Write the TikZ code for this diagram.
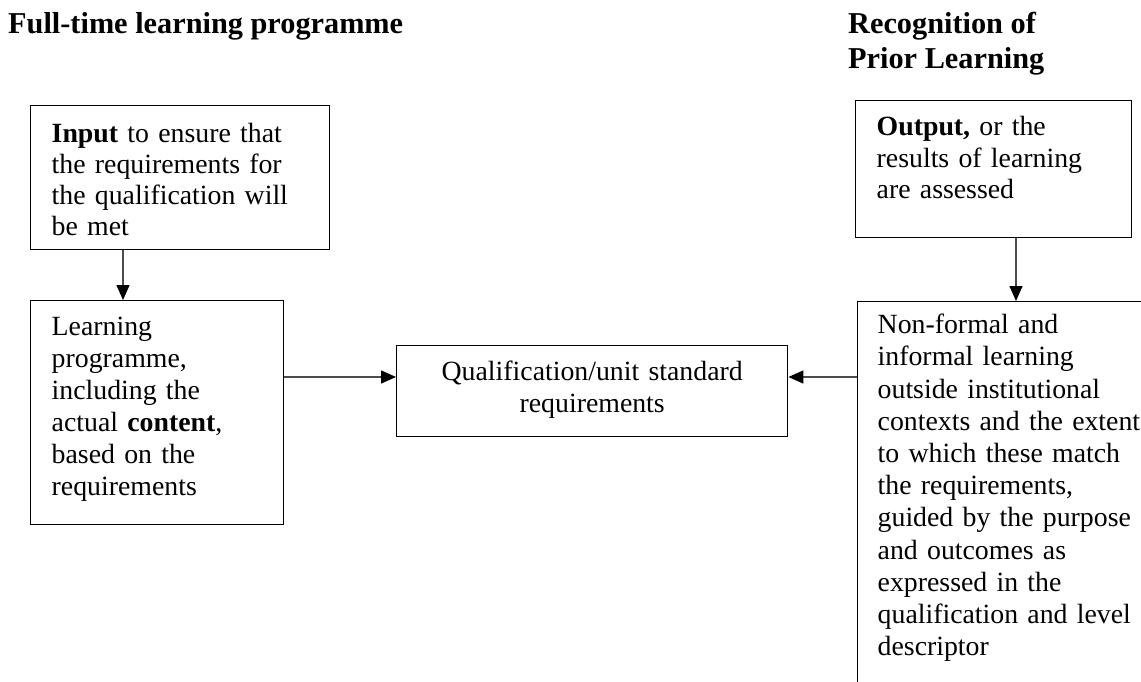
\documentclass[tikz,border=0pt]{standalone}
\usepackage{fontspec}
\setmainfont{Liberation Serif}
\usetikzlibrary{arrows.meta}
\newcommand{\bodyfont}[1]{\fontsize{27.8pt}{#1pt}\selectfont}
\newcommand{\titlefont}{\fontsize{30.3pt}{35pt}\selectfont\bfseries}
\tikzset{
  boxnode/.style={draw=black, line width=1.4pt, inner xsep=21pt, inner ysep=0pt,
                  anchor=north west, align=left},
  conn/.style={draw=black!70, line width=1.4pt,
               -{Triangle[length=15pt,width=13pt,color=black]}},
  titlenode/.style={inner sep=0pt, align=left, font=\titlefont}
}
\begin{document}
\begin{tikzpicture}[x=1pt,y=1pt]
\useasboundingbox (0,0) rectangle (1141,-681);
\clip (0,0) rectangle (1141,-681);
\fill[white] (0,0) rectangle (1141,-681);

% titles
\node[titlenode, anchor=base west] (t1) at (8,-33) {Full-time learning programme};
\node[titlenode, anchor=north west] (t2) at (848,-8)
  {\rule{0pt}{25pt}Recognition of\\Prior Learning};

% boxes
\node[boxnode, text width=257pt, font=\bodyfont{31}] (in) at (30,-105)
  {\rule{0pt}{37pt}\textbf{Input} to ensure that\\the requirements for\\the qualification will\\be met\rule[-14pt]{0pt}{14pt}};

\node[boxnode, text width=211pt, font=\bodyfont{32}] (lp) at (30,-300)
  {\rule{0pt}{35pt}Learning\\programme,\\including the\\actual \textbf{content},\\based on the\\requirements\rule[-29pt]{0pt}{29pt}};

\node[boxnode, text width=349pt, align=center, font=\bodyfont{32}] (q) at (396,-345)
  {\rule{0pt}{35pt}Qualification/unit standard\\requirements\rule[-24pt]{0pt}{24pt}};

\node[boxnode, text width=234pt, font=\bodyfont{31.5}] (out) at (855,-100)
  {\rule{0pt}{35pt}\textbf{Output,} or the\\results of learning\\are assessed\rule[-39pt]{0pt}{39pt}};

\node[boxnode, inner xsep=20pt, text width=263pt, font=\bodyfont{32.2}] (nf) at (857,-301)
  {\rule{0pt}{32pt}Non-formal and\\informal learning\\outside institutional\\contexts and the extent\\to which these match\\the requirements,\\guided by the purpose\\and outcomes as\\expressed in the\\qualification and level\\descriptor\rule[-60pt]{0pt}{60pt}};

% connector guides
\coordinate (ax1) at (123,0);
\coordinate (ax2) at (1016,0);
\coordinate (ay) at (0,-377);

% connectors
\draw[conn] (in.south -| ax1) -- (lp.north -| ax1);
\draw[conn] (lp.east |- ay) -- (q.west |- ay);
\draw[conn] (nf.west |- ay) -- (q.east |- ay);
\draw[conn] (out.south -| ax2) -- (nf.north -| ax2);
\end{tikzpicture}
\end{document}
